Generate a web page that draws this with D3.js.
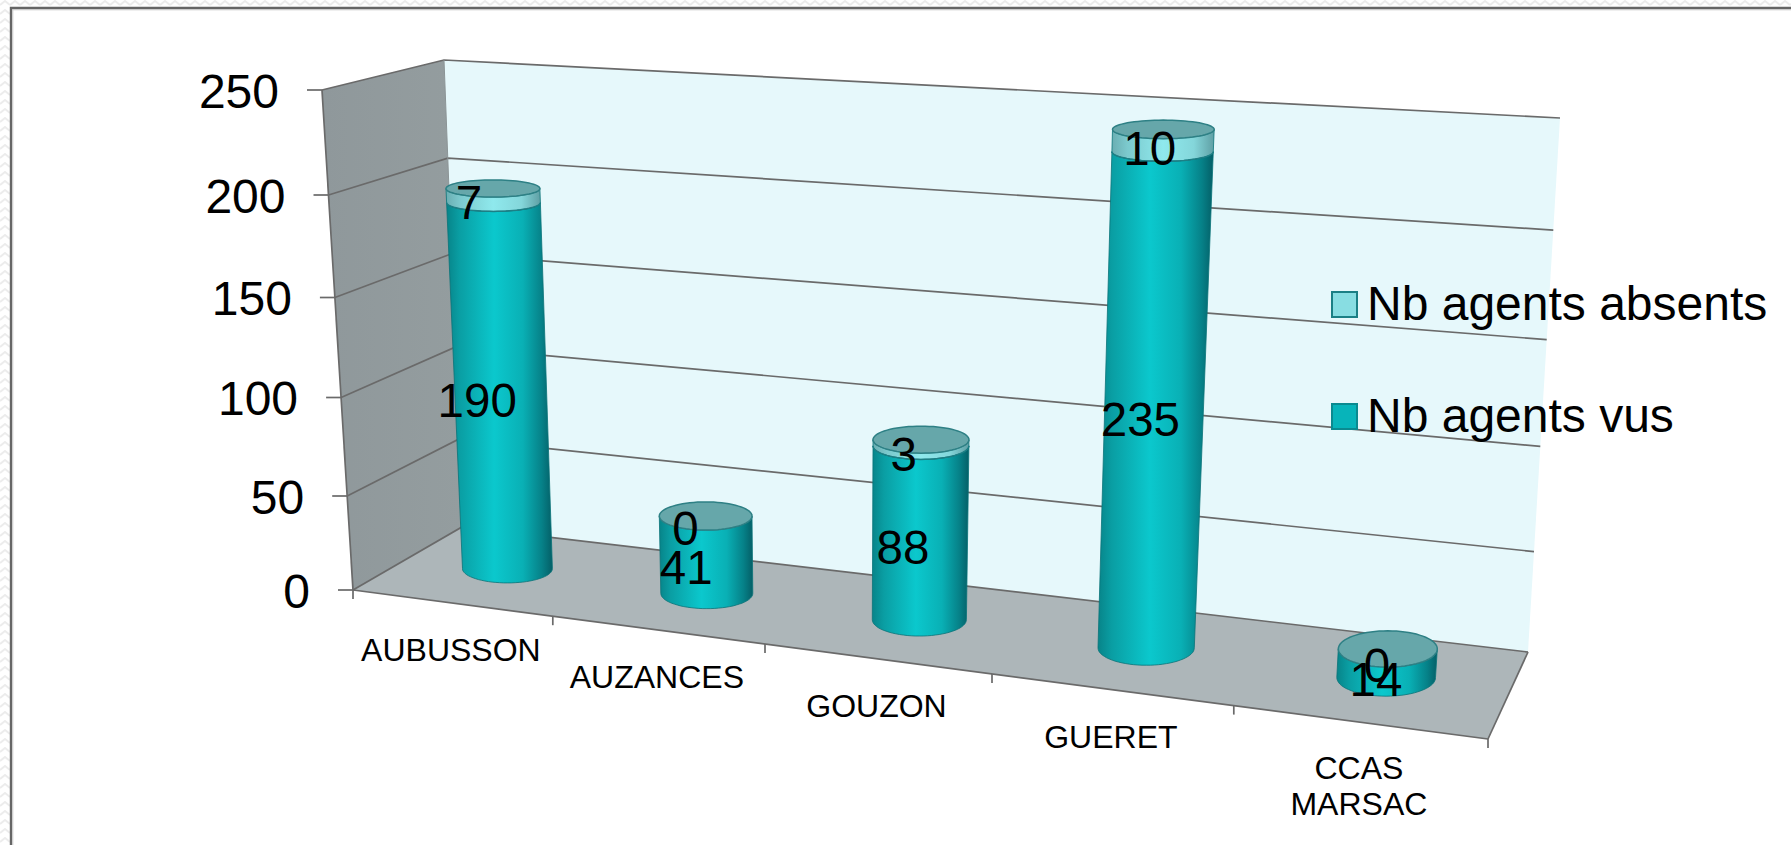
<!DOCTYPE html>
<html>
<head>
<meta charset="utf-8">
<script src="https://cdn.jsdelivr.net/npm/d3@7/dist/d3.min.js"></script>
<style>
html,body{margin:0;padding:0;background:#fff;overflow:hidden}
svg{display:block}
text{font-family:"Liberation Sans",Arial,sans-serif;fill:#000}
</style>
</head>
<body>
<svg id="chart" width="1791" height="845"></svg>
<script>
// ---- data ----
const categories = [["AUBUSSON"], ["AUZANCES"], ["GOUZON"], ["GUERET"], ["CCAS", "MARSAC"]];
const agentsVus = [190, 41, 88, 235, 14];
const agentsAbsents = [7, 0, 3, 10, 0];
const valueTicks = [0, 50, 100, 150, 200, 250];
const legendLabels = ["Nb agents absents", "Nb agents vus"];

// ---- perspective frame of the 3D box ----
const back = {tl:[444,60], tr:[1560,118], bl:[462,527], br:[1528,652]};
const front = {tl:[322,90], tr:[1533,165], bl:[353,590], br:[1488,739]};
const lerp = (a,b,t)=>[a[0]+(b[0]-a[0])*t, a[1]+(b[1]-a[1])*t];
const plane = (p,u,v)=>lerp(lerp(p.bl,p.br,u), lerp(p.tl,p.tr,u), v);
const project = (u,v,d)=>lerp(plane(back,u,v), plane(front,u,v), d);

// scales (foreshortened by perspective)
const xScale = d3.scaleLinear().domain(d3.range(6)).range([0,.176,.363,.563,.776,1]);
const yScale = d3.scaleLinear().domain(valueTicks).range([0,.188,.385,.585,.79,1]);

const svg = d3.select("#chart");
const defs = svg.append("defs");

function hGrad(id, stops){
  const g = defs.append("linearGradient").attr("id",id).attr("x1",0).attr("x2",1).attr("y1",0).attr("y2",0);
  stops.forEach(s=>g.append("stop").attr("offset",s[0]).attr("stop-color",s[1]));
}
hGrad("gBody",[[0,"#078489"],[.12,"#0a9ea3"],[.45,"#0bc8cd"],[.72,"#09b0b5"],[.9,"#068188"],[1,"#045f67"]]);
hGrad("gBand",[[0,"#6aaeb2"],[.15,"#7cc9cd"],[.5,"#8fe9ed"],[.8,"#84d6da"],[1,"#5f9fa4"]]);
hGrad("gWall",[[0,"#8f989b"],[1,"#949d9f"]]);

const wave = defs.append("pattern").attr("id","wave").attr("patternUnits","userSpaceOnUse")
  .attr("width",10).attr("height",9);
wave.append("path").attr("d","M0 5 L5 1 L10 5").attr("fill","none").attr("stroke","#ececec").attr("stroke-width",2);

// page background and slide frame
svg.append("rect").attr("width",1791).attr("height",845).attr("fill","url(#wave)");
svg.append("rect").attr("x",11).attr("y",8).attr("width",1790).attr("height",860).attr("fill","#fff");
svg.append("path").attr("d","M11 845V8H1791").attr("fill","none").attr("stroke","#666").attr("stroke-width",2.4);
svg.append("path").attr("d","M12.8 845V9.8H1791").attr("fill","none").attr("stroke","#c8c8c8").attr("stroke-width",1);

const poly = pts => "M"+pts.map(p=>p[0].toFixed(1)+" "+p[1].toFixed(1)).join("L");
const lineCol = "#6a6a6a";

// walls and floor
svg.append("path").attr("d",poly([project(0,0,0),project(1,0,0),project(1,1,0),project(0,1,0)])+"Z").attr("fill","#e6f8fb");
svg.append("path").attr("d",poly([project(0,0,0),project(0,1,0),project(0,1,1),project(0,0,1)])+"Z").attr("fill","url(#gWall)");
svg.append("path").attr("d",poly([project(0,0,0),project(1,0,0),project(1,0,1),project(0,0,1)])+"Z").attr("fill","#adb6b9");

// gridlines on side and back walls
valueTicks.forEach(t=>{
  const v = yScale(t);
  const pts = t===0 ? [project(0,0,1),project(0,0,0),project(1,0,0)] : [project(0,v,1),project(0,v,0),project(1,v,0)];
  svg.append("path").attr("d",poly(pts)).attr("fill","none").attr("stroke",lineCol).attr("stroke-width",1.7);
});
// axes and box edges
[[project(0,0,1),project(0,1,1)],
 [project(0,0,1),project(1,0,1)],
 [project(1,0,1),project(1,0,0)],
 [project(0,0,0),project(0,1,0)]].forEach((e,i)=>{
  svg.append("path").attr("d",poly(e)).attr("fill","none").attr("stroke",i===3?"#8b9496":lineCol).attr("stroke-width",i===3?1:1.7);
});

// value ticks and labels
valueTicks.forEach(t=>{
  const p = project(0,yScale(t),1);
  svg.append("path").attr("d",poly([[p[0]-15,p[1]],p])).attr("stroke",lineCol).attr("stroke-width",1.7).attr("fill","none");
  svg.append("text").attr("x",p[0]-43).attr("y",p[1]+1).attr("dy",".35em").attr("text-anchor","end")
    .attr("font-size",48).text(t);
});

// category ticks and labels
d3.range(6).forEach(i=>{
  const p = project(xScale(i),0,1);
  svg.append("path").attr("d",poly([p,[p[0],p[1]+9]])).attr("stroke",lineCol).attr("stroke-width",1.7).attr("fill","none");
});
categories.forEach((lines,i)=>{
  const p = project(xScale(i+.5),0,1);
  const t = svg.append("text").attr("text-anchor","middle").attr("font-size",32);
  lines.forEach((l,k)=>t.append("tspan").attr("x",p[0]-2).attr("y",p[1]+(lines.length>1?45:47)+k*36).attr("dy",".35em").text(l));
});

// cylinders: horizontal ellipses centred on the projected axis point
const dMid = .47, dd = .22, frontHalf = d3.range(0,37).map(a=>a*Math.PI/36);
const fullCircle = d3.range(0,73).map(a=>a*Math.PI/36);
const ring = (i,val,angles)=>{
  const u = xScale(i+.5), v = yScale(val), du = .0405+.005*u;
  const c = project(u,v,dMid);
  const rx = (project(u+du,v,dMid)[0]-project(u-du,v,dMid)[0])/2;
  const ry = (project(u,v,dMid+dd)[1]-project(u,v,dMid-dd)[1])/2;
  return angles.map(a=>[c[0]+rx*Math.cos(a), c[1]+ry*Math.sin(a)]);
};
function segment(i,from,to,fill){
  const pts = ring(i,to,frontHalf).concat(ring(i,from,frontHalf).reverse());
  svg.append("path").attr("d",poly(pts)+"Z").attr("fill",fill).attr("stroke","#0a7379").attr("stroke-width",.8);
}
categories.forEach((c,i)=>{
  const vus = agentsVus[i], abs = agentsAbsents[i], total = vus+abs;
  segment(i,0,vus,"url(#gBody)");
  if(abs>0){
    segment(i,vus,total,"url(#gBand)");
    svg.append("path").attr("d",poly(ring(i,vus,frontHalf))).attr("fill","none").attr("stroke","#1d7f85").attr("stroke-width",1.5);
  }
  svg.append("path").attr("d",poly(ring(i,total,fullCircle))+"Z").attr("fill","#66a7aa").attr("stroke","#2e8085").attr("stroke-width",1.5);
});

// legend
legendLabels.forEach((l,k)=>{
  const y = [292,404][k];
  svg.append("rect").attr("x",1332).attr("y",y).attr("width",25).attr("height",25)
    .attr("fill",["#88dde2","#07b4ba"][k]).attr("stroke",["#1b7f85","#0a8a90"][k]).attr("stroke-width",2);
  svg.append("text").attr("x",1367).attr("y",y+28).attr("font-size",48).text(l);
});

// data labels
const labelAt = (i,val,t)=>{
  const p = project(xScale(i+.5),yScale(val),.68);
  svg.append("text").attr("x",p[0]-1).attr("y",p[1]-1).attr("dy",".35em").attr("text-anchor","middle")
    .attr("font-size",47.5).text(t);
};
categories.forEach((c,i)=>{
  labelAt(i,agentsVus[i]/2,agentsVus[i]);
  labelAt(i,agentsVus[i]+agentsAbsents[i]/2,agentsAbsents[i]);
});
</script>
</body>
</html>
